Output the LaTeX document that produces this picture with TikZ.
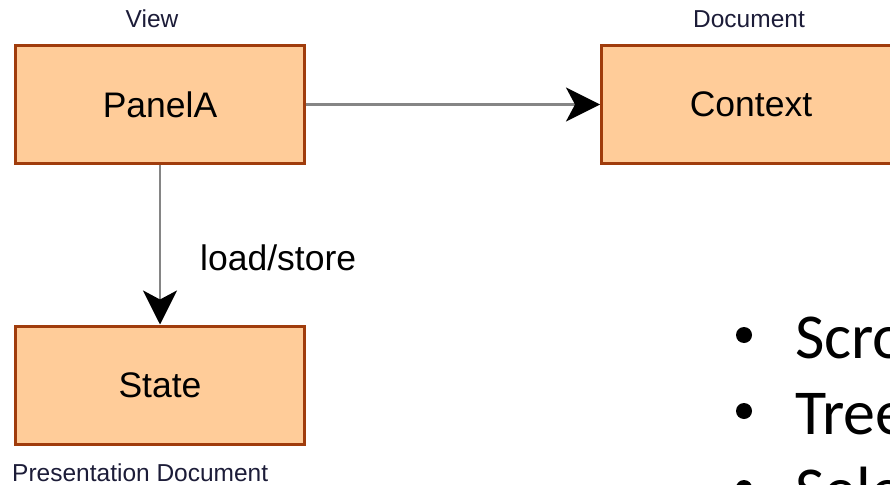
\documentclass[tikz,border=0pt]{standalone}
\usepackage{fontspec}
\setmainfont{Liberation Sans}
\newfontfamily\calib{Carlito}
\usetikzlibrary{arrows.meta}
\definecolor{boxfill}{HTML}{FFCC99}
\definecolor{boxline}{HTML}{A03C0C}
\definecolor{arrline}{HTML}{858585}
\definecolor{lbl}{HTML}{1C1C38}
\tikzset{
  box/.style={draw=boxline, fill=boxfill, line width=3pt, minimum width=289pt, minimum height=118pt, inner sep=0pt, font=\fontsize{35.5}{40}\selectfont},
  conn/.style={draw=arrline, line width=2.8pt, -{Stealth[length=34pt,width=34pt,inset=9pt,fill=black,color=black]}},
  small/.style={font=\fontsize{24.5}{28}\selectfont, text=lbl, inner sep=0pt},
  bigtext/.style={font=\calib\fontsize{64}{76}\selectfont, inner sep=0pt, anchor=base west},
  dot/.style={circle, fill=black, minimum size=16pt, inner sep=0pt}
}
\begin{document}
\begin{tikzpicture}[x=1pt,y=-1pt]
\useasboundingbox (0,0) rectangle (890,484);
\node[box] (panel) at (160,104.5) {PanelA};
\node[box, minimum width=299pt] (context) at (751,104.5) {Context};
\node[box] (state) at (160,385) {State};
\node[small, anchor=base] (view) at (152,28) {View};
\node[small, anchor=base] (doc) at (749,28) {Document};
\node[small, anchor=base west] (pres) at (12,481) {Presentation Document};
\draw[conn] (panel.east) -- (context.west);
\draw[conn] (panel.south) -- (state.north);
\node[anchor=base west, inner sep=0pt, font=\fontsize{35.5}{40}\selectfont] (ls) at (200,270) {load/store};
\node[dot] (b1) at (744,335) {};
\node[dot] (b2) at (744,411) {};
\node[dot] (b3) at (744,488) {};
\node[bigtext] (t1) at (795,358) {Scro};
\node[bigtext] (t2) at (795,434) {Tree};
\node[bigtext] (t3) at (795,511) {Sele};
\end{tikzpicture}
\end{document}
